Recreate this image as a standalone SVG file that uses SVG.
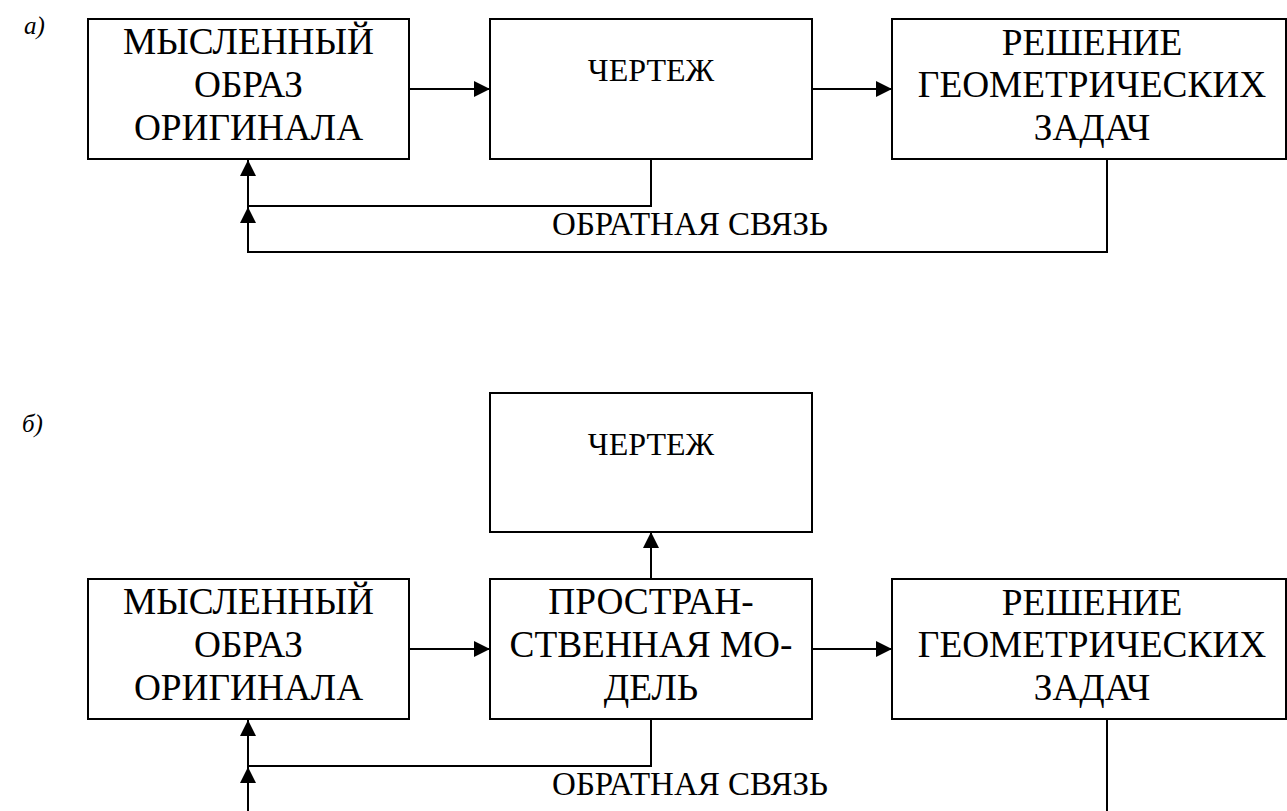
<svg xmlns="http://www.w3.org/2000/svg" width="1287" height="811" viewBox="0 0 1287 811">
  <style>
    .box { fill: #fff; stroke: #000; stroke-width: 2; }
    .lbl { font-family: "Liberation Serif", serif; font-size: 37.3px; fill: #000; text-anchor: middle; }
    .sm { font-size: 32px; }
    .fb { font-size: 33px; }
    .tag { font-family: "Liberation Serif", serif; font-size: 25px; font-style: italic; fill: #000; }
    .wire { fill: none; stroke: #000; stroke-width: 2; }
  </style>
  <defs>
    <marker id="arrow" markerUnits="userSpaceOnUse" markerWidth="18" markerHeight="18" viewBox="0 0 18 18" refX="16" refY="9" orient="auto">
      <path d="M0,1 L16,9 L0,17 Z" fill="#000"/>
    </marker>
  </defs>
  <rect width="1287" height="811" fill="#fff"/>

  <!-- panel a -->
  <text class="tag" x="24" y="34">а)</text>

  <g id="a-image">
    <rect class="box" x="88" y="19" width="321" height="140"/>
    <text class="lbl" x="248.5" y="54">МЫСЛЕННЫЙ</text>
    <text class="lbl" x="248.5" y="97">ОБРАЗ</text>
    <text class="lbl" x="248.5" y="140">ОРИГИНАЛА</text>
  </g>
  <g id="a-drawing">
    <rect class="box" x="490" y="19" width="322" height="140"/>
    <text class="lbl sm" x="651" y="81">ЧЕРТЕЖ</text>
  </g>
  <g id="a-solution">
    <rect class="box" x="892" y="19" width="394" height="140"/>
    <text class="lbl" x="1092" y="55">РЕШЕНИЕ</text>
    <text class="lbl" x="1092" y="97">ГЕОМЕТРИЧЕСКИХ</text>
    <text class="lbl" x="1092" y="140">ЗАДАЧ</text>
  </g>

  <g id="a-connectors">
    <line class="wire" x1="409" y1="89" x2="490" y2="89" marker-end="url(#arrow)"/>
    <line class="wire" x1="812" y1="89" x2="892" y2="89" marker-end="url(#arrow)"/>
    <path class="wire" d="M651,159 V206 H248 V160" marker-end="url(#arrow)"/>
    <path class="wire" d="M1107,159 V252 H248 V207" marker-end="url(#arrow)"/>
    <text class="lbl fb" x="690" y="235">ОБРАТНАЯ СВЯЗЬ</text>
  </g>

  <!-- panel b -->
  <text class="tag" x="22" y="432">б)</text>

  <g id="b-drawing">
    <rect class="box" x="490" y="393" width="322" height="139"/>
    <text class="lbl sm" x="651" y="455">ЧЕРТЕЖ</text>
  </g>
  <g id="b-image">
    <rect class="box" x="88" y="579" width="321" height="140"/>
    <text class="lbl" x="248.5" y="614">МЫСЛЕННЫЙ</text>
    <text class="lbl" x="248.5" y="657">ОБРАЗ</text>
    <text class="lbl" x="248.5" y="700">ОРИГИНАЛА</text>
  </g>
  <g id="b-model">
    <rect class="box" x="490" y="579" width="322" height="140"/>
    <text class="lbl" x="651" y="614">ПРОСТРАН-</text>
    <text class="lbl" x="651" y="657">СТВЕННАЯ МО-</text>
    <text class="lbl" x="651" y="700">ДЕЛЬ</text>
  </g>
  <g id="b-solution">
    <rect class="box" x="892" y="579" width="394" height="140"/>
    <text class="lbl" x="1092" y="615">РЕШЕНИЕ</text>
    <text class="lbl" x="1092" y="657">ГЕОМЕТРИЧЕСКИХ</text>
    <text class="lbl" x="1092" y="700">ЗАДАЧ</text>
  </g>

  <g id="b-connectors">
    <line class="wire" x1="409" y1="649" x2="490" y2="649" marker-end="url(#arrow)"/>
    <line class="wire" x1="812" y1="649" x2="892" y2="649" marker-end="url(#arrow)"/>
    <line class="wire" x1="651" y1="579" x2="651" y2="532" marker-end="url(#arrow)"/>
    <path class="wire" d="M651,719 V766 H248 V720" marker-end="url(#arrow)"/>
    <line class="wire" x1="1107" y1="719" x2="1107" y2="812"/>
    <line class="wire" x1="248" y1="812" x2="248" y2="767" marker-end="url(#arrow)"/>
    <text class="lbl fb" x="690" y="795">ОБРАТНАЯ СВЯЗЬ</text>
  </g>
</svg>
